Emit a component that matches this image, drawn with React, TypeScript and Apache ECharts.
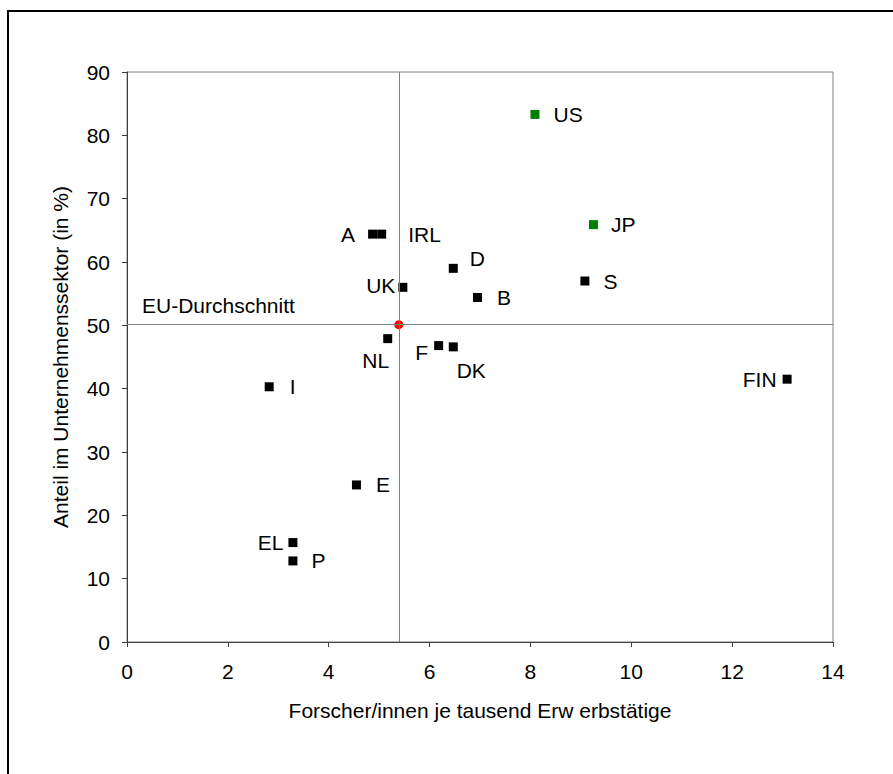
import React, { useEffect, useRef } from "react";
import * as echarts from "echarts";

// ---- data ----
const countries = ["US", "JP", "S", "A", "IRL", "D", "UK", "B", "NL", "F", "DK", "FIN", "I", "E", "EL", "P"];
const researchersPerThousand = [8.09, 9.25, 9.08, 4.87, 5.05, 6.47, 5.47, 6.95, 5.17, 6.18, 6.47, 13.09, 2.82, 4.55, 3.29, 3.29];
const businessSharePct = [83.3, 65.9, 57.0, 64.4, 64.4, 59.0, 56.0, 54.4, 47.9, 46.8, 46.6, 41.5, 40.3, 24.8, 15.7, 12.8];
const nonEuCountries = ["US", "JP"];
const euAverageLabel = "EU-Durchschnitt";
const euAverage = [5.39, 50.1];
const xTicks = { min: 0, max: 14, interval: 2 };
const yTicks = { min: 0, max: 90, interval: 10 };
const xAxisTitle = "Forscher/innen je tausend Erw erbstätige";
const yAxisTitle = "Anteil im Unternehmenssektor (in %)";

// ---- label placement (styling only) ----
type Place = { position: string; distance?: number; offset?: [number, number] };
const labelPlacement: Record<string, Place> = {
  US: { position: "right", distance: 14 },
  JP: { position: "right", distance: 13 },
  S: { position: "right", distance: 14 },
  A: { position: "left", distance: 13 },
  IRL: { position: "right", distance: 22 },
  D: { position: "right", distance: 12, offset: [0, -10] },
  UK: { position: "left", distance: 3, offset: [0, -2] },
  B: { position: "right", distance: 15 },
  NL: { position: "inside", offset: [-12, 22] },
  F: { position: "inside", offset: [-17, 7] },
  DK: { position: "inside", offset: [18, 24] },
  FIN: { position: "left", distance: 6 },
  I: { position: "right", distance: 16 },
  E: { position: "right", distance: 15 },
  EL: { position: "left", distance: 5 },
  P: { position: "right", distance: 14 },
};

const FONT = "'Liberation Sans', Arial, sans-serif";

export default function App() {
  const ref = useRef<HTMLDivElement>(null);

  useEffect(() => {
    document.body.style.margin = "0";
    if (!ref.current) return;
    const chart = echarts.init(ref.current, undefined, { renderer: "svg" });

    const points = countries.map((c, i) => {
      const p = labelPlacement[c];
      return {
        name: c,
        value: [researchersPerThousand[i], businessSharePct[i]],
        itemStyle: { color: nonEuCountries.includes(c) ? "#008000" : "#000000", opacity: 1 },
        label: {
          show: true,
          formatter: c,
          position: p.position,
          distance: p.distance ?? 5,
          offset: p.offset ?? [0, 0],
          color: "#000",
          opacity: 1,
          fontSize: 21,
          fontFamily: FONT,
        },
      };
    });

    chart.setOption({
      animation: false,
      backgroundColor: "#ffffff",
      textStyle: { fontFamily: FONT },
      grid: {
        left: 127,
        right: 60,
        top: 72,
        bottom: 132,
        show: true,
        borderColor: "#808080",
        borderWidth: 1,
        backgroundColor: "transparent",
      },
      xAxis: {
        type: "value",
        min: xTicks.min,
        max: xTicks.max,
        interval: xTicks.interval,
        name: xAxisTitle,
        nameLocation: "middle",
        nameGap: 58,
        nameTextStyle: { color: "#000", fontSize: 21, fontFamily: FONT },
        axisLine: { show: true, onZero: false, lineStyle: { color: "#404040", width: 1 } },
        axisTick: { show: true, inside: false, length: 5, lineStyle: { color: "#404040" } },
        axisLabel: { color: "#000", fontSize: 21, fontFamily: FONT, margin: 19 },
        splitLine: { show: false },
      },
      yAxis: {
        type: "value",
        min: yTicks.min,
        max: yTicks.max,
        interval: yTicks.interval,
        name: yAxisTitle,
        nameLocation: "middle",
        nameRotate: 90,
        nameGap: 56,
        nameTextStyle: { color: "#000", fontSize: 21, fontFamily: FONT },
        axisLine: { show: true, onZero: false, lineStyle: { color: "#404040", width: 1 } },
        axisTick: { show: true, inside: false, length: 5, lineStyle: { color: "#404040" } },
        axisLabel: { color: "#000", fontSize: 21, fontFamily: FONT, margin: 17 },
        splitLine: { show: false },
      },
      graphic: [
        {
          type: "rect",
          shape: { x: 8, y: 11, width: 1000, height: 1000 },
          style: { fill: "none", stroke: "#000", lineWidth: 2 },
          silent: true,
          z: 100,
        },
      ],
      series: [
        {
          type: "scatter",
          name: "EU",
          symbol: "circle",
          symbolSize: 9,
          z: 3,
          itemStyle: { color: "#ff0000", opacity: 1 },
          data: [euAverage],
          label: { show: false },
          emphasis: { disabled: true },
          markLine: {
            silent: true,
            symbol: ["none", "none"],
            animation: false,
            lineStyle: { color: "#808080", width: 1, type: "solid", opacity: 1 },
            label: { show: false },
            emphasis: { disabled: true },
            data: [
              { xAxis: euAverage[0] },
              {
                yAxis: euAverage[1],
                label: {
                  show: true,
                  formatter: euAverageLabel,
                  position: "insideStartTop",
                  distance: [15, 9],
                  color: "#000",
                  fontSize: 21,
                  fontFamily: FONT,
                },
              },
            ],
          },
        },
        {
          type: "scatter",
          name: "Länder",
          symbol: "rect",
          symbolSize: 9,
          z: 4,
          itemStyle: { opacity: 1 },
          data: points,
          emphasis: { disabled: true },
        },
      ],
    });

    return () => chart.dispose();
  }, []);

  return <div ref={ref} style={{ width: 893, height: 774 }} />;
}
